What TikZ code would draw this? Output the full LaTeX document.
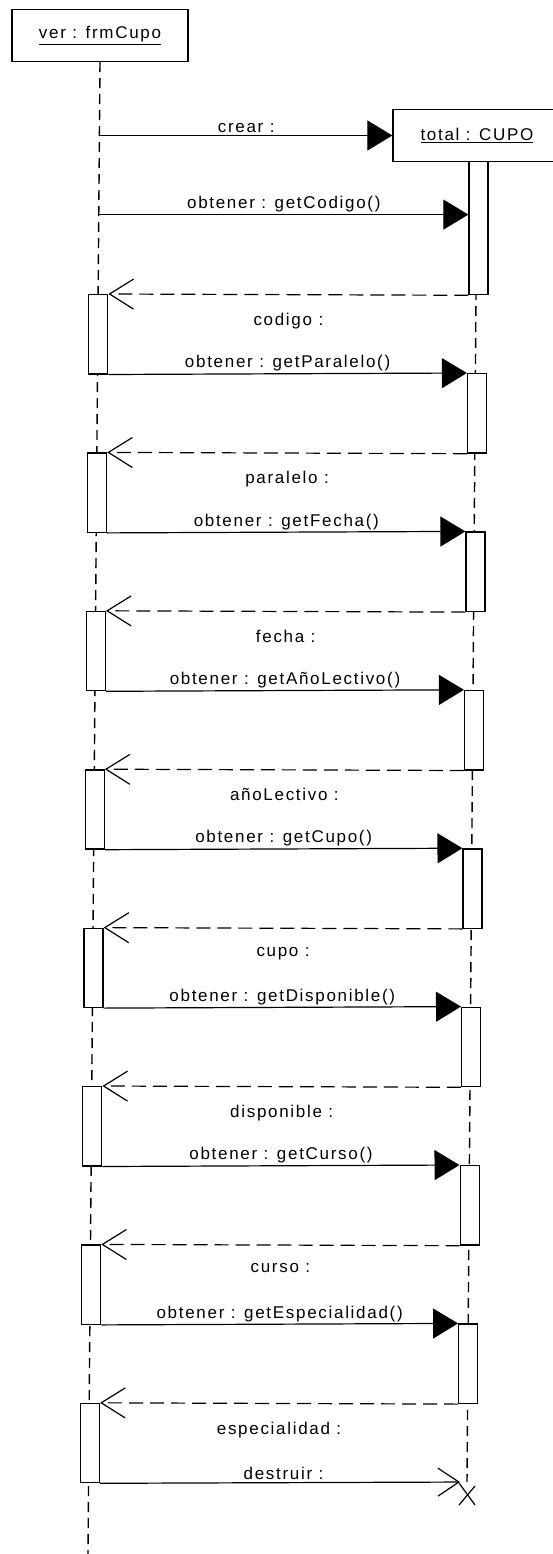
\documentclass[tikz,border=0pt]{standalone}
\usepackage{fontspec}
\setmainfont{Liberation Sans}[LetterSpace=10]
\usetikzlibrary{arrows.meta,positioning,calc}
\tikzset{
  objbox/.style={draw,line width=1.3pt,minimum height=52pt,inner sep=0pt},
  actbar/.style={draw,fill=white,line width=1.3pt,minimum width=19pt,inner sep=0pt,anchor=north},
  lifeline/.style={line width=1.4pt,dash pattern=on 10pt off 6pt},
  callmsg/.style={-{Triangle[length=25pt,width=30pt]},line width=1.2pt},
  retmsg/.style={-{Straight Barb[length=24pt,width=30pt]},line width=1.2pt,dash pattern=on 14pt off 7pt},
  killmsg/.style={-{Straight Barb[length=21pt,width=28pt]},line width=1.2pt},
  msgtext/.style={font=\fontsize{17}{20}\selectfont,inner sep=2pt}
}

\begin{document}
\begin{tikzpicture}[x=1pt,y=-1pt]
  \useasboundingbox (0,0) rectangle (552,1554);
  \node[objbox,minimum width=176pt,msgtext] (ver) at (100,35.5) {\underline{ver : frmCupo}};
  \node[objbox,minimum width=168pt,msgtext] (total) at (477,135.5) {\underline{total : CUPO}};
  \coordinate (verend) at (88,1554);
  \coordinate (kill) at (467,1482);
  \draw[lifeline] (ver.south) -- (verend);
  \draw[lifeline] (total.south) -- (kill);
  % activation bars, slightly drifting like the scan
  \foreach \i in {1,...,8} {
    \pgfmathsetmacro\ycall{214.6+158.4*(\i-1)}
    \pgfmathsetmacro\yret{\ycall+79.4}
    \pgfmathsetmacro\ytop{\i==1 ? 161 : \ycall}
    \pgfmathsetmacro\hr{\yret-\ytop}
    \pgfmathsetmacro\xr{479-0.0093*(\ycall-161)}
    \pgfmathsetmacro\xl{100-0.0075*(\yret-62)}
    \node[actbar,minimum height=\hr pt] (r\i) at (\xr,\ytop) {};
    \node[actbar,minimum height=79.2pt] (l\i) at (\xl,\yret) {};
  }
  \coordinate (m0) at (ver.south |- total.west);
  \coordinate (m1) at (99.3,214.6);
  \draw[callmsg] (m0) -- node[msgtext,above] (tcrear) {crear :} (total.west);
  \draw[callmsg] (m1) -- node[msgtext,above] (tcodigo) {obtener : getCodigo()} (m1 -| r1.west);
  \foreach \i/\j/\ask in {2/1/getParalelo,3/2/getFecha,4/3/getAñoLectivo,5/4/getCupo,6/5/getDisponible,7/6/getCurso,8/7/getEspecialidad}
    \draw[callmsg] (l\j.south east) -- node[msgtext,above] (ask\i) {obtener : \ask()} (r\i.north west);
  \foreach \i/\reply in {1/codigo,2/paralelo,3/fecha,4/añoLectivo,5/cupo,6/disponible,7/curso,8/especialidad}
    \draw[retmsg] (r\i.south west) -- node[msgtext,below=16pt] (reply\i) {\reply\ :} (l\i.north east);
  \draw[killmsg,shorten >=7pt] (l8.south east) -- node[msgtext,above] (tdestruir) {destruir :} (kill);
  \draw[line width=1.2pt] ([shift={(-8,1)}]kill) -- ([shift={(8,23)}]kill);
  \draw[line width=1.2pt] ([shift={(8,4)}]kill) -- ([shift={(-8,23)}]kill);
\end{tikzpicture}
\end{document}
